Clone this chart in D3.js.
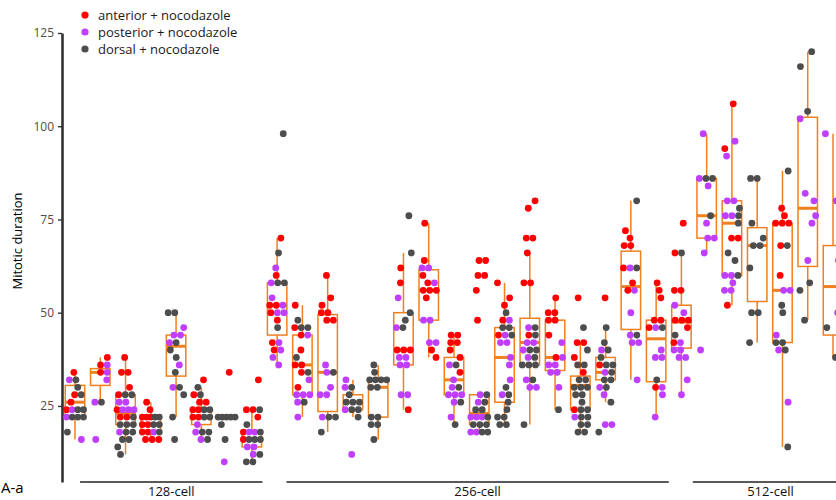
<!DOCTYPE html>
<html>
<head>
<meta charset="utf-8">
<script src="https://cdn.jsdelivr.net/npm/d3@7"></script>
<style>
  body { margin: 0; background: #fff; }
  svg { display: block; font-family: "Open Sans", "Noto Sans", sans-serif; }
</style>
</head>
<body>
<svg id="chart" width="836" height="500"></svg>
<script>
// Embryo position per category (index 0..30), grouped by developmental stage
const categories = d3.range(31);

// Stage bands: first/last category position covered by the underline
const stageNames = ["128-cell", "256-cell", "512-cell"];
const stageFrom  = [0.2, 8.37, 24.45];
const stageTo    = [7.42, 23.5, 30.6];

// Box statistics (minutes)
const boxLo  = [16, 26, 12, 16, 22, 16, 22, 10, 36, 22, 18, 22, 16, 24, 38, 20, 18, 20, 20, 24, 18, 26, 32, 22, 28, 66, 52, 42, 14, 48, 38];
const boxQ1  = [22, 30.5, 20, 18, 33, 20, 22, 14, 44, 28, 23.5, 24, 22, 36, 48, 28, 20, 26, 36, 34.5, 24, 32, 45.5, 31.5, 40.5, 70, 60, 53, 42, 62.4, 44];
const boxMed = [26, 34, 23, 20, 41, 22, 22, 16, 52, 36, 34, 26, 30, 40, 56, 32, 23, 38, 42, 38, 30.5, 34, 57, 43, 47.5, 76, 74, 68, 56, 78, 57];
const boxQ3  = [30.5, 35, 28, 22, 44, 24, 22, 18, 58, 44, 49.5, 28, 32, 50, 61.5, 38, 28, 46, 48.5, 48, 33, 38, 66.5, 48, 52, 86, 80, 72.8, 74, 102.4, 68];
const boxHi  = [34, 38, 38, 26, 50, 30, 22, 24, 70, 52, 60, 32, 36, 66, 74, 44, 28, 58, 66, 54, 42, 46, 80, 58, 66, 98, 106, 86, 88, 120, 98];

// Individual cell measurements per category
const anterior = [
  [34, 28, 26, 24], [38, 36, 34], [38, 34, 34, 30, 28, 24, 22, 22],
  [26, 24, 22, 22, 22, 20, 20, 18, 18, 16, 16, 16], [], [32, 28, 26, 26, 24, 24, 22, 22],
  [34], [32, 24, 24, 22, 18, 16], [70, 60, 52, 52, 50, 48, 42, 40],
  [52, 46, 44, 40, 36, 36, 34, 30], [60, 54, 52, 50, 50, 48, 48], [], [],
  [62, 58, 40, 40, 40, 24], [74, 64, 60, 58, 56, 56, 56, 54, 40, 38],
  [44, 44, 42, 42, 40, 38, 34], [64, 64, 60, 60, 56, 48], [58, 54, 52, 48, 44],
  [80, 78, 70, 70, 66, 58, 58, 44], [54, 50, 50, 48, 48, 44, 38], [54, 42, 42, 38, 34, 24],
  [54, 36], [72, 70, 68, 68, 62, 58, 56], [58, 56, 54, 48, 48, 46, 30],
  [74, 66, 56, 56, 48, 48, 48, 46, 42], [], [106, 94, 70, 70, 52], [],
  [78, 76, 74, 74, 74, 68, 60], [], []
];
const posterior = [
  [32, 24, 22, 16], [36, 34, 32, 26, 16], [26, 26, 24, 24, 24, 18], [18],
  [46, 44, 44, 42, 36, 30], [20, 18, 16], [10], [18, 18, 14, 14, 12],
  [62, 58, 54, 52, 50, 50, 42, 40, 38, 36], [44, 32, 28, 28, 28, 26, 22],
  [36, 34, 30, 28, 28, 22], [32, 30, 24, 12], [], [54, 46, 38, 38, 36, 36, 28, 28],
  [62, 62, 58, 48, 48, 42, 42], [36, 32, 30, 28, 28, 28, 26, 22], [28, 26, 22, 22, 22, 18, 18],
  [48, 44, 42, 42, 38, 36, 32, 28], [46, 42, 42, 40, 38, 32, 30, 30], [42, 38, 36, 36, 34, 34, 30],
  [22], [40, 34, 30, 28, 20, 20], [62, 56, 50, 44, 42, 42, 32], [46, 40, 38, 38, 30, 28, 22],
  [52, 50, 42, 40, 40, 38, 38, 32, 28], [98, 86, 84, 74, 70, 70, 66, 40],
  [96, 92, 80, 80, 76, 76, 60, 60, 58, 56, 56], [], [56, 56, 44, 40, 26],
  [102, 82, 80, 76, 74, 64], [98, 80, 64, 50]
];
const dorsal = [
  [32, 30, 28, 24, 24, 22, 22, 22, 18], [26], [28, 28, 22, 20, 20, 20, 18, 18, 16, 16, 14, 12],
  [22, 22, 20, 20, 18], [50, 50, 42, 40, 38, 34, 30, 28, 22, 16], [30, 28, 24, 24, 22, 22, 18, 18, 16],
  [22, 22, 22, 22, 22, 20, 16], [24, 20, 18, 16, 16, 16, 12, 10, 10], [98, 66, 58, 58, 46],
  [48, 46, 46, 38, 34, 26], [34, 22, 22, 18], [30, 28, 26, 26, 26, 24, 24, 22],
  [36, 34, 32, 32, 32, 32, 30, 30, 22, 22, 20, 20, 16], [76, 66, 50, 48, 46], [],
  [36, 30, 26, 20], [28, 26, 24, 24, 22, 20, 20, 20, 18, 18],
  [50, 46, 46, 44, 30, 28, 26, 24, 22, 22, 20, 20], [46, 44, 40, 40, 38, 36, 36, 36, 32, 20],
  [24], [46, 40, 36, 36, 32, 32, 30, 30, 30, 28, 28, 26, 24, 24, 22, 22, 20, 20, 18, 18],
  [46, 42, 40, 38, 36, 36, 34, 32, 32, 30, 26, 18], [80, 62, 44], [46, 32], [66, 44],
  [86, 86, 76], [78, 76, 74, 66, 64, 60], [86, 86, 74, 70, 68, 68, 62, 50, 50, 42],
  [88, 68, 52, 50, 42, 42, 40, 14], [120, 116, 104, 58, 56, 48], [46, 38]
];

const seriesNames = ["anterior + nocodazole", "posterior + nocodazole", "dorsal + nocodazole"];
const seriesValues = [anterior, posterior, dorsal];
const seriesColors = ["#ff0000", "#bf3eff", "#4d4d4d"];

const yTicks = [25, 50, 75, 100, 125];
const yTitle = "Mitotic duration";
const panelTag = "A-a";

// ---- layout ----
const svg = d3.select("#chart");
const boxColor = "#ef7f1f";

const x = d3.scalePoint().domain(categories).range([75, 833]);
const xPos = d3.scaleLinear().domain([0, categories.length - 1]).range([75, 833]);
const y = d3.scaleLinear().domain([4.6, 125]).range([482, 33]);
const bw = x.step() * 0.77;

// y axis
const axisX = 62;
const gy = svg.append("g").attr("transform", `translate(${axisX},0)`)
  .call(d3.axisLeft(y).tickValues(yTicks).tickSize(4).tickSizeOuter(0).tickPadding(4));
gy.select(".domain").attr("stroke", "#333").attr("stroke-width", 2.6);
gy.selectAll(".tick line").attr("stroke", "#333").attr("stroke-width", 1.4);
gy.selectAll(".tick text").attr("fill", "#4d4d4d").attr("font-size", 12)
  .attr("font-family", "'Open Sans', sans-serif");

svg.append("text")
  .attr("transform", "translate(22,241) rotate(-90)")
  .attr("text-anchor", "middle").attr("font-size", 13).attr("fill", "#000")
  .text(yTitle);

// boxes
const boxes = svg.append("g").attr("fill", "none").attr("stroke", boxColor);
categories.forEach(i => {
  const cx = x(i);
  const g = boxes.append("g");
  g.append("line").attr("x1", cx).attr("x2", cx).attr("y1", y(boxHi[i])).attr("y2", y(boxQ3[i])).attr("stroke-width", 1.5);
  g.append("line").attr("x1", cx).attr("x2", cx).attr("y1", y(boxQ1[i])).attr("y2", y(boxLo[i])).attr("stroke-width", 1.5);
  g.append("rect").attr("x", cx - bw / 2).attr("width", bw)
    .attr("y", y(boxQ3[i])).attr("height", Math.max(0, y(boxQ1[i]) - y(boxQ3[i])))
    .attr("stroke-width", 1.5);
  g.append("line").attr("x1", cx - bw / 2).attr("x2", cx + bw / 2)
    .attr("y1", y(boxMed[i])).attr("y2", y(boxMed[i])).attr("stroke-width", 3);
});

// jittered points: equal values are spread side by side, singles get a small seeded offset
const rnd = d3.randomLcg(0.4217);
const pts = [];
categories.forEach(i => {
  const list = [];
  seriesValues.forEach((s, k) => s[i].forEach(v => list.push({ v, k, i })));
  const byVal = d3.group(list, d => d.v);
  byVal.forEach(grp => {
    const n = grp.length;
    const sp = n > 1 ? Math.min(6.6, 17 / (n - 1)) : 0;
    const room = Math.max(0, 16 - (n - 1) * sp);
    const shift = (rnd() - 0.5) * room;
    grp.forEach((d, j) => {
      d.dx = shift + (j - (n - 1) / 2) * sp;
      pts.push(d);
    });
  });
});

svg.append("g").selectAll("circle").data(pts).join("circle")
  .attr("cx", d => x(d.i) + d.dx)
  .attr("cy", d => y(d.v))
  .attr("r", 3.4)
  .attr("fill", d => seriesColors[d.k]);

// stage underlines and names
const stages = svg.append("g");
stageNames.forEach((name, s) => {
  const x0 = xPos(stageFrom[s]), x1 = xPos(stageTo[s]);
  stages.append("line").attr("x1", x0).attr("x2", x1).attr("y1", 482).attr("y2", 482)
    .attr("stroke", "#222").attr("stroke-width", 1.6);
  stages.append("text").attr("x", (x0 + x1) / 2).attr("y", 496)
    .attr("text-anchor", "middle").attr("font-size", 13).attr("fill", "#111").text(name);
});

// legend
const lg = svg.append("g");
seriesNames.forEach((name, k) => {
  const cy = 15 + k * 17;
  lg.append("circle").attr("cx", 85).attr("cy", cy).attr("r", 3.6).attr("fill", seriesColors[k]);
  lg.append("text").attr("x", 98).attr("y", cy).attr("dy", "0.35em")
    .attr("font-size", 13).attr("fill", "#1a1a1a").text(name);
});

// panel tag in the lower-left corner
svg.append("text").attr("x", 1).attr("y", 493).attr("font-size", 15).attr("fill", "#000").text(panelTag);
</script>
</body>
</html>
